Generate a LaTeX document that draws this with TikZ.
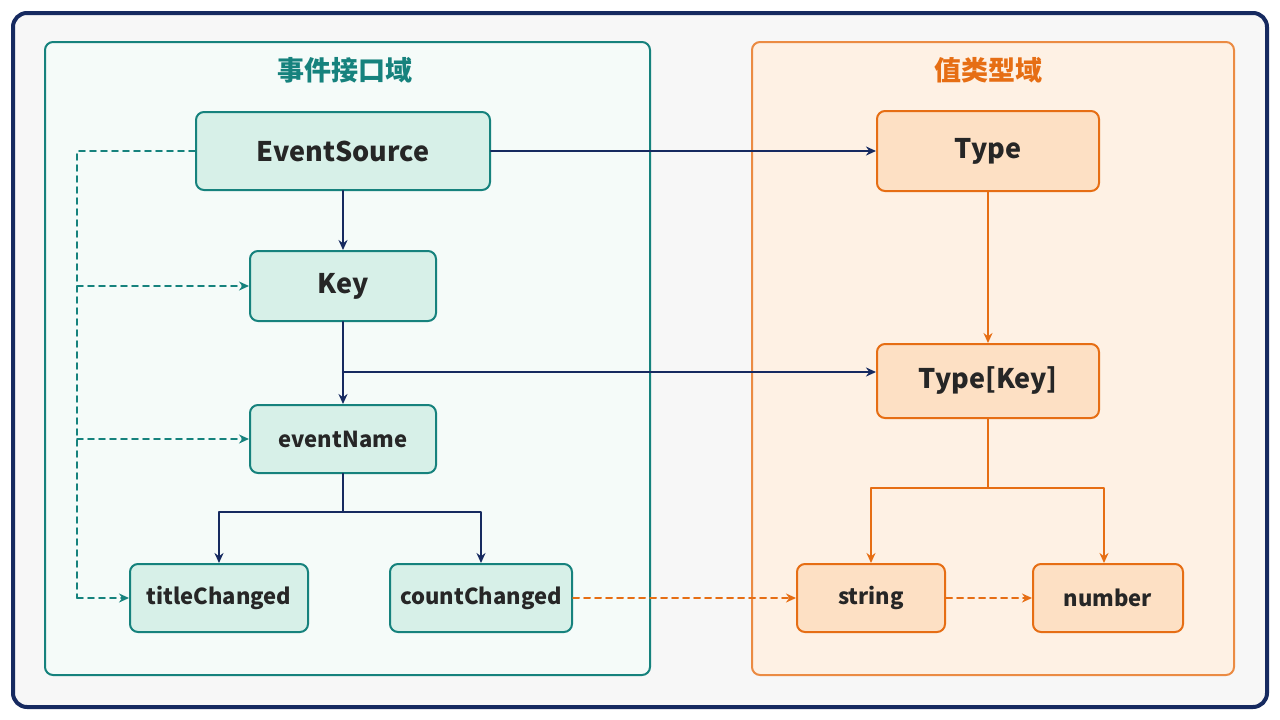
\documentclass[tikz,border=0pt]{standalone}
\usepackage{fontspec}
\setmainfont{Noto Sans CJK SC}
\usetikzlibrary{arrows.meta}
\definecolor{navy}{RGB}{22,42,96}
\definecolor{tealc}{RGB}{22,130,125}
\definecolor{tealf}{RGB}{215,240,232}
\definecolor{orng}{RGB}{230,110,20}
\definecolor{orngf}{RGB}{253,224,196}

\begin{document}
\begin{tikzpicture}[x=1pt,y=-1pt,line cap=round,line join=round,>={Stealth[length=10pt,width=9pt]},
	box/.style={draw,rounded corners=8pt,line width=2pt,font=\fontsize{22}{26}\selectfont\bfseries,text=black!85},
	lbox/.style={box,draw=tealc,fill=tealf},
	rbox/.style={box,draw=orng,fill=orngf},
	nav/.style={->,draw=navy,line width=2.2pt},
	org/.style={->,draw=orng,line width=2.4pt},
	tdash/.style={->,draw=tealc,line width=1.8pt,dash pattern=on 6pt off 5pt},
	odash/.style={->,draw=orng,line width=2pt,dash pattern=on 6pt off 5pt}]
	\useasboundingbox (0,0) rectangle (1280,720);
	\draw [navy,line width=4pt,fill=black!3,rounded corners=14pt] (13,13) rectangle (1267,707);
	\draw [tealc,line width=2pt,fill=tealf!25,rounded corners=8pt] (45,42) rectangle (650,675);
	\draw [orng!80,line width=2pt,fill=orngf!45,rounded corners=8pt] (752,42) rectangle (1234,675);
	\node [text=tealc,font=\fontsize{27}{30}\selectfont\bfseries] at (345,70) {事件接口域};
	\node [text=orng,font=\fontsize{27}{30}\selectfont\bfseries] at (988,70) {值类型域};
	% left domain
	\node [lbox,minimum width=294,minimum height=78,font=\fontsize{27}{30}\selectfont\bfseries] (src) at (343,151) {EventSource};
	\node [lbox,minimum width=186,minimum height=70,font=\fontsize{27}{30}\selectfont\bfseries] (key) at (343,286) {Key};
	\node [lbox,minimum width=186,minimum height=68] (name) at (343,439) {eventName};
	\node [lbox,minimum width=178,minimum height=68] (title) at (219,598) {titleChanged};
	\node [lbox,minimum width=182,minimum height=68] (count) at (481,598) {countChanged};
	% right domain
	\node [rbox,minimum width=222,minimum height=80,font=\fontsize{27}{30}\selectfont\bfseries] (type) at (988,151) {Type};
	\node [rbox,minimum width=222,minimum height=74,font=\fontsize{27}{30}\selectfont\bfseries] (tkey) at (988,381) {Type[Key]};
	\node [rbox,minimum width=148,minimum height=68] (str) at (871,598) {string};
	\node [rbox,minimum width=150,minimum height=68] (num) at (1108,598) {number};
	\coordinate (rail) at (77,151);
	\coordinate (fork) at (343,372);
	% connectors
	\draw [nav] (src) -- (type);
	\draw [nav] (src) -- (key);
	\draw [nav] (key) -- (name);
	\draw [nav] (fork) -- (fork -| tkey.west);
	\draw [nav] (name.south) -- ++(0,38) -| (title.north);
	\draw [nav] (name.south) -- ++(0,38) -| (count.north);
	\draw [tdash,-] (src.west) -- (rail) -- (rail |- title);
	\draw [tdash] (rail |- key) -- (key.west);
	\draw [tdash] (rail |- name) -- (name.west);
	\draw [tdash] (rail |- title) -- (title.west);
	\draw [org] (type) -- (tkey);
	\draw [org] (tkey.south) -- ++(0,69) -| (str.north);
	\draw [org] (tkey.south) -- ++(0,69) -| ([xshift=-4pt]num.north);
	\draw [odash] (count) -- (str);
	\draw [odash] (str) -- (num);
\end{tikzpicture}
\end{document}
